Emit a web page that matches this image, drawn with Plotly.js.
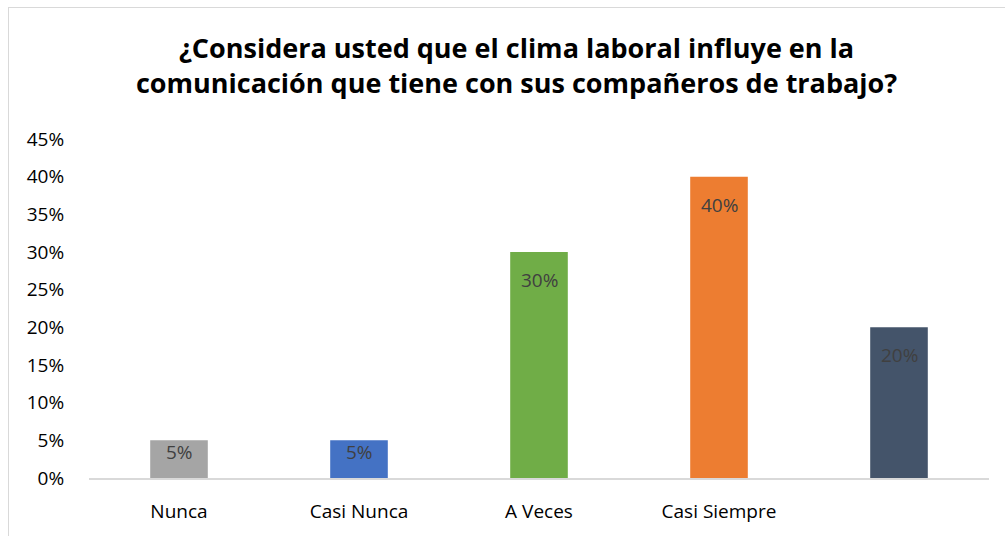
<!DOCTYPE html>
<html>
<head>
<meta charset="utf-8">
<script src="https://cdn.plot.ly/plotly-3.0.1.min.js"></script>
<style>
  html, body { margin: 0; padding: 0; background: #fff; }
  #wrap { position: relative; width: 1005px; height: 536px; overflow: hidden; }
  #frame { position: absolute; left: 8px; top: 7px; width: 1100px; height: 600px; border: 1px solid #d9d9d9; box-sizing: border-box; pointer-events: none; }
  #chart { position: absolute; left: 0; top: 0; width: 1005px; height: 536px; }
</style>
</head>
<body>
<div id="wrap">
  <div id="frame"></div>
  <div id="chart"></div>
</div>
<script>
const categories = ["Nunca", "Casi Nunca", "A Veces", "Casi Siempre", " "];
const values = [0.05, 0.05, 0.30, 0.40, 0.20];
const labels = ["5%", "5%", "30%", "40%", "20%"];
const colors = ["#a5a5a5", "#4472c4", "#70ad47", "#ed7d31", "#44546a"];
const yTickVals = [0, 0.05, 0.10, 0.15, 0.20, 0.25, 0.30, 0.35, 0.40, 0.45];
const yTickText = ["0%", "5%", "10%", "15%", "20%", "25%", "30%", "35%", "40%", "45%"];
const titleText = "¿Considera usted que el clima laboral influye en la<br>comunicación que tiene con sus compañeros de trabajo?";

const FONT = "Open Sans, Noto Sans, Liberation Sans, sans-serif";
const W = 1005, H = 536;
const M = { l: 89, r: 16, t: 139, b: 58 };
const yMax = 0.45;
const plotH = H - M.t - M.b;

const xIdx = categories.map((c, i) => i);

const trace = {
  type: "bar",
  x: xIdx,
  y: values,
  marker: { color: colors, line: { width: 0 } },
  width: 0.32,
  hoverinfo: "none"
};

// Data labels: "inside end" style, offset below the bar top (clamped for short bars)
const annotations = values.map((v, i) => {
  const barPx = v / yMax * plotH;
  const shift = Math.min(28, barPx - 26);
  return {
    x: xIdx[i], y: v, xref: "x", yref: "y",
    text: labels[i], showarrow: false,
    xanchor: "center", yanchor: "middle",
    yshift: -shift,
    font: { family: FONT, size: 19, color: "#404040" }
  };
});

const layout = {
  width: W,
  height: H,
  paper_bgcolor: "rgba(0,0,0,0)",
  plot_bgcolor: "rgba(0,0,0,0)",
  margin: M,
  showlegend: false,
  font: { family: FONT, size: 19, color: "#000" },
  title: {
    text: titleText,
    font: { family: FONT, size: 27, color: "#000", weight: "bold" },
    x: 0.514, xanchor: "center",
    y: 0.892, yanchor: "middle", yref: "container"
  },
  annotations: annotations,
  xaxis: {
    type: "linear",
    range: [-0.5, 4.5],
    tickvals: xIdx,
    ticktext: categories,
    showgrid: false,
    zeroline: false,
    showline: true,
    linecolor: "#d9d9d9",
    linewidth: 1.5,
    ticks: "outside",
    ticklen: 16,
    tickcolor: "rgba(0,0,0,0)",
    tickfont: { family: FONT, size: 19, color: "#000" },
    fixedrange: true
  },
  yaxis: {
    range: [0, yMax],
    tickvals: yTickVals,
    ticktext: yTickText,
    showgrid: false,
    zeroline: false,
    showline: false,
    ticks: "outside",
    ticklen: 20,
    tickcolor: "rgba(0,0,0,0)",
    tickfont: { family: FONT, size: 19, color: "#000" },
    fixedrange: true
  }
};

Plotly.newPlot("chart", [trace], layout, { displayModeBar: false, staticPlot: true });
</script>
</body>
</html>
